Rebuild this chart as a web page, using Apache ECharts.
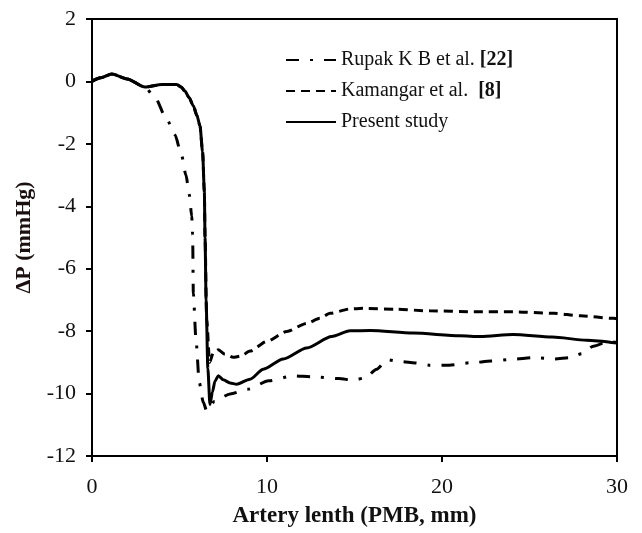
<!DOCTYPE html>
<html>
<head>
<meta charset="utf-8">
<title>Pressure drop along artery</title>
<script src="https://cdn.jsdelivr.net/npm/echarts@6/dist/echarts.min.js"></script>
<style>
  html, body { margin: 0; padding: 0; background: #fff; }
  #chart { width: 642px; height: 533px; }
</style>
</head>
<body>
<div id="chart"></div>
<script>
// Axis ticks
const xTicks = [0, 10, 20, 30];
const yTicks = [2, 0, -2, -4, -6, -8, -10, -12];

// Series names
const seriesNames = ['Rupak K B et al. [22]', 'Kamangar et al.  [8]', 'Present study'];

// Rupak K B et al. [22]: [x (mm), ΔP (mmHg)]
const rupakData = [
  [0, 0.0], [0.5, 0.12], [1.13, 0.24], [2.0, 0.08], [3.03, -0.18],
  [3.6, -0.52], [4.27, -1.21], [4.74, -1.71], [5.12, -2.37], [5.37, -3.0],
  [5.56, -3.63], [5.7, -4.32], [5.75, -4.9], [5.79, -6.8], [5.94, -8.26],
  [6.13, -9.65], [6.36, -10.28], [6.55, -10.55], [7.0, -10.25], [7.89, -10.01],
  [8.9, -9.86], [10.1, -9.59], [11.5, -9.43], [12.55, -9.46], [14.1, -9.52],
  [14.93, -9.57], [15.6, -9.5], [16.27, -9.22], [16.87, -8.92], [17.7, -8.98],
  [18.46, -9.02], [19.26, -9.09], [20.4, -9.09], [21.7, -9.01], [22.8, -8.96],
  [24.04, -8.9], [25.2, -8.85], [26.46, -8.89], [27.3, -8.85], [28.0, -8.72],
  [28.65, -8.48], [29.5, -8.33], [30, -8.36]
];

// Kamangar et al. [8]
const kamangarData = [
  [0, 0.0], [0.5, 0.12], [1.13, 0.24], [2.0, 0.08], [3.03, -0.18],
  [4.0, -0.1], [4.84, -0.1], [5.1, -0.18], [5.31, -0.31], [5.55, -0.52],
  [5.79, -0.78], [6.0, -1.1], [6.17, -1.42], [6.32, -2.26], [6.42, -3.53],
  [6.46, -5.0], [6.55, -7.6], [6.72, -9.0], [6.93, -8.7], [7.22, -8.6],
  [7.6, -8.74], [8.07, -8.84], [8.5, -8.8], [9.03, -8.64], [9.98, -8.33],
  [11.13, -8.01], [12.27, -7.75], [13.03, -7.59], [13.6, -7.43], [14.74, -7.29],
  [15.5, -7.27], [17.4, -7.3], [19.3, -7.35], [21.8, -7.38], [24.1, -7.38],
  [26.4, -7.43], [27.9, -7.51], [29.8, -7.59], [30, -7.6]
];

// Present study
const presentData = [
  [0, 0.02], [0.5, 0.12], [1.13, 0.24], [2.0, 0.08], [3.03, -0.18],
  [4.0, -0.1], [4.84, -0.1], [5.1, -0.18], [5.31, -0.31], [5.55, -0.52],
  [5.79, -0.78], [6.0, -1.1], [6.17, -1.42], [6.32, -2.26], [6.42, -3.53],
  [6.46, -5.0], [6.52, -7.0], [6.62, -9.2], [6.74, -10.35], [6.88, -9.95],
  [7.03, -9.6], [7.22, -9.43], [7.5, -9.56], [7.89, -9.66], [8.27, -9.7],
  [9.03, -9.54], [9.79, -9.22], [10.93, -8.89], [12.27, -8.54], [13.7, -8.17],
  [14.74, -7.99], [15.9, -7.98], [18.36, -8.06], [21.03, -8.15], [22.2, -8.17],
  [24.06, -8.11], [26.3, -8.19], [28.27, -8.29], [30, -8.38]
];

const serif = '"Liberation Serif", "DejaVu Serif", serif';

const chart = echarts.init(document.getElementById('chart'));

function lineSeries(name, data, type) {
  return {
    name: name,
    type: 'line',
    data: data,
    symbol: 'none',
    smooth: 0.25,
    smoothMonotone: 'x',
    lineStyle: { color: '#000', width: 3, type: type },
    itemStyle: { color: '#000' }
  };
}

chart.setOption({
  backgroundColor: '#fff',
  animation: false,
  grid: {
    left: 92, right: 25, top: 19, bottom: 67,
    show: true, borderColor: '#000', borderWidth: 2
  },
  legend: {
    orient: 'vertical',
    left: 280, top: 45,
    itemWidth: 50, itemHeight: 20, itemGap: 11,
    data: seriesNames,
    itemStyle: { opacity: 0 },
    formatter: function (name) {
      const m = name.match(/^(.*?)(\s*)(\[\d+\])$/);
      if (m) return m[1] + m[2] + '{b|' + m[3] + '}';
      return name;
    },
    textStyle: {
      fontFamily: serif, fontSize: 20, color: '#111',
      rich: { b: { fontFamily: serif, fontSize: 20, fontWeight: 'bold', color: '#111' } }
    }
  },
  xAxis: {
    type: 'value',
    min: xTicks[0], max: xTicks[xTicks.length - 1], interval: 10,
    name: 'Artery lenth (PMB, mm)',
    nameLocation: 'middle', nameGap: 49,
    nameTextStyle: { fontFamily: serif, fontSize: 23, fontWeight: 'bold', color: '#111' },
    axisLine: { onZero: false, lineStyle: { color: '#000', width: 2 } },
    axisTick: { show: true, inside: false, length: 6, lineStyle: { color: '#000', width: 2 } },
    axisLabel: { fontFamily: serif, fontSize: 22, color: '#111', margin: 20 },
    splitLine: { show: false }
  },
  yAxis: {
    type: 'value',
    min: yTicks[yTicks.length - 1], max: yTicks[0], interval: 2,
    name: 'ΔP (mmHg)',
    nameLocation: 'middle', nameGap: 48,
    nameTextStyle: { fontFamily: serif, fontSize: 22, fontWeight: 'bold', color: '#1a1010' },
    axisLine: { onZero: false, lineStyle: { color: '#000', width: 2 } },
    axisTick: { show: true, inside: false, length: 6, lineStyle: { color: '#000', width: 2 } },
    axisLabel: { fontFamily: serif, fontSize: 22, color: '#111', margin: 16 },
    splitLine: { show: false }
  },
  series: [
    lineSeries(seriesNames[0], rupakData, [13, 11, 3, 11]),
    lineSeries(seriesNames[1], kamangarData, [9, 6]),
    lineSeries(seriesNames[2], presentData, 'solid')
  ]
});
</script>
</body>
</html>
